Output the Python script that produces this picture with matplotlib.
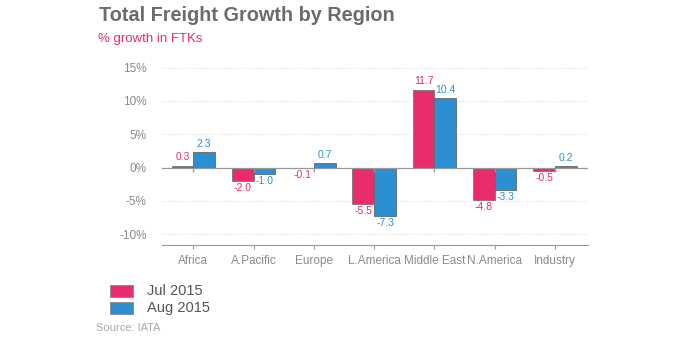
import numpy as np
import matplotlib.pyplot as plt
from matplotlib.patches import Rectangle

plt.rcParams['font.family'] = ['Liberation Sans', 'DejaVu Sans']

regions = ['Africa', 'A.Pacific', 'Europe', 'L.America', 'Middle East', 'N.America', 'Industry']
jul_2015 = [0.3, -2.0, -0.1, -5.5, 11.7, -4.8, -0.5]
aug_2015 = [2.3, -1.0, 0.7, -7.3, 10.4, -3.3, 0.2]
series_names = ['Jul 2015', 'Aug 2015']
y_ticks = [-10, -5, 0, 5, 10, 15]

pink = '#e92c6e'
blue = '#2b8fd1'
grey_txt = '#8a8a8a'

fig = plt.figure(figsize=(6.92, 3.38), dpi=100)
ax = fig.add_axes([0.234, 0.275, 0.616, 0.545])

x = np.arange(len(regions))
w = 0.36
b1 = ax.bar(x - w / 2, jul_2015, w, color=pink, edgecolor='#777777', linewidth=0.6, zorder=3)
b2 = ax.bar(x + w / 2, aug_2015, w, color=blue, edgecolor='#666666', linewidth=0.6, zorder=3)

# value labels
for bars, vals, col in [(b1, jul_2015, pink), (b2, aug_2015, blue)]:
    for rect, v in zip(bars, vals):
        cx = rect.get_x() + rect.get_width() / 2
        if v >= 0:
            ax.text(cx, v + 0.5, f'{v:.1f}', ha='center', va='bottom', fontsize=7.5, color=col)
        else:
            ax.text(cx, v - 0.3, f'{v:.1f}', ha='center', va='top', fontsize=7.5, color=col)

ax.set_xlim(-0.52, 6.55)
ax.set_ylim(-11.6, 16)
ax.set_yticks(y_ticks)
ax.set_yticklabels([f'{t}%' for t in y_ticks], color=grey_txt, fontsize=8.5)
ax.tick_params(axis='y', length=0, pad=11)
ax.set_xticks(x)
ax.set_xticklabels(regions, color=grey_txt, fontsize=8.5)
ax.tick_params(axis='x', length=3, color='#999999', pad=4)

for t in y_ticks:
    if t != 0:
        ax.axhline(t, color='#dddddd', linestyle=':', linewidth=0.8, zorder=1)
ax.axhline(0, color='#999999', linewidth=0.9, zorder=4)
ax.plot(x, np.zeros(len(x)), linestyle='none', marker=3, markersize=3,
        color='#999999', markeredgewidth=0.9, zorder=4)

for s in ['top', 'right', 'left']:
    ax.spines[s].set_visible(False)
ax.spines['bottom'].set_color('#999999')

fig.text(0.143, 0.955, 'Total Freight Growth by Region', fontsize=14.3, fontweight='bold',
         color='#6b6b6b', va='center', ha='left')
fig.text(0.141, 0.885, '% growth in FTKs', fontsize=9.5, color=pink, va='center', ha='left')

# legend
for i, (name, col) in enumerate(zip(series_names, [pink, blue])):
    y0 = 1 - (297 + i * 17) / 338
    fig.patches.append(Rectangle((110 / 692, y0), 23 / 692, 12 / 338, transform=fig.transFigure,
                                 facecolor=col, edgecolor='#888888', linewidth=0.6))
    fig.text(147 / 692, y0 + 6 / 338, name, fontsize=10.5, color='#555555', va='center', ha='left')

fig.text(96 / 692, 1 - 328 / 338, 'Source: IATA', fontsize=8, color='#aaaaaa', va='center', ha='left')

fig.savefig('out.png', dpi=100)
